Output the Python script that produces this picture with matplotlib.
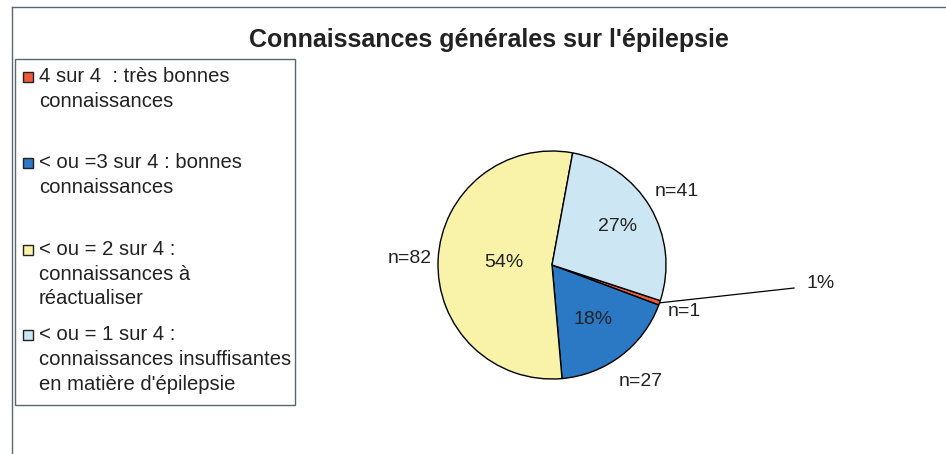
import numpy as np
import matplotlib.pyplot as plt
from matplotlib.patches import Rectangle
from matplotlib.lines import Line2D

plt.rcParams["font.family"] = ["Liberation Sans", "DejaVu Sans"]

# Data (legend order)
legend_labels = [
    ["4 sur 4  : très bonnes", "connaissances"],
    ["< ou =3 sur 4 : bonnes", "connaissances"],
    ["< ou = 2 sur 4 :", "connaissances à", "réactualiser"],
    ["< ou = 1 sur 4 :", "connaissances insuffisantes", "en matière d'épilepsie"],
]
counts = [1, 27, 82, 41]
pct_labels = ["1%", "18%", "54%", "27%"]
n_labels = ["n=1", "n=27", "n=82", "n=41"]
colors = ["#ee5a3c", "#2b78c4", "#f8f3a8", "#cce7f3"]

W, H = 946, 454
fig = plt.figure(figsize=(W / 100, H / 100), dpi=100)
fig.patch.set_facecolor("white")

# pie axes covering full figure, data units = pie radius
cx, cy, R = 552, 265, 114
ax = fig.add_axes([0, 0, 1, 1])
wedges, _ = ax.pie(counts, colors=colors, startangle=-18.2, counterclock=False,
                   radius=1, wedgeprops=dict(edgecolor="black", linewidth=1.0))
ax.set_xlim(-cx / R, (W - cx) / R)
ax.set_ylim(-(H - cy) / R, cy / R)
ax.set_aspect("auto")
ax.axis("off")

txt_color = "#222222"
fs_pie = 14
fs_leg = 14.6
pct_dist = [None, 0.6, 0.42, 0.67]
n_dist = [1.23, 1.28, 1.25, 1.27]
for i, w in enumerate(wedges):
    mid = np.deg2rad((w.theta1 + w.theta2) / 2)
    if pct_dist[i] is not None:
        d = pct_dist[i]
        ax.text(d * np.cos(mid), d * np.sin(mid), pct_labels[i], ha="center",
                va="center", fontsize=fs_pie, color=txt_color)
    d = n_dist[i]
    ax.text(d * np.cos(mid), d * np.sin(mid), n_labels[i], ha="center",
            va="center", fontsize=fs_pie, color=txt_color)

# leader line for the tiny slice
w = wedges[0]
mid = np.deg2rad((w.theta1 + w.theta2) / 2)
x0, y0 = np.cos(mid), np.sin(mid)
ax.plot([x0, x0 + 1.18], [y0, y0 + 0.13], color="black", linewidth=0.9)
ax.text(x0 + 1.29, y0 + 0.17, pct_labels[0], ha="left", va="center",
        fontsize=fs_pie, color=txt_color)

# title
fig.text(489 / W, 1 - 40 / H, "Connaissances générales sur l'épilepsie",
         ha="center", va="center", fontsize=18, fontweight="bold",
         color="#222222")

# outer frame (top and left edges)
frame_c = "#5a6670"
fig.add_artist(Line2D([12 / W, 1], [1 - 7 / H, 1 - 7 / H], color=frame_c,
                      linewidth=1.0, transform=fig.transFigure))
fig.add_artist(Line2D([12 / W, 12 / W], [0, 1 - 7 / H], color=frame_c,
                      linewidth=1.0, transform=fig.transFigure))

# legend box
fig.add_artist(Rectangle((15 / W, 1 - 405 / H), 280 / W, 346 / H,
                         transform=fig.transFigure, facecolor="white",
                         edgecolor=frame_c, linewidth=1.0))
entry_y = [77, 163, 250, 335]
line_step = 24.5
for lines, col, y in zip(legend_labels, colors, entry_y):
    fig.add_artist(Rectangle((23 / W, 1 - (y + 5) / H), 10 / W, 10 / H,
                             transform=fig.transFigure, facecolor=col,
                             edgecolor="#222222", linewidth=1.0))
    for j, line in enumerate(lines):
        fig.text(39 / W, 1 - (y + j * line_step) / H, line, ha="left",
                 va="center", fontsize=fs_leg, color=txt_color)

fig.savefig("out.png", dpi=100)
